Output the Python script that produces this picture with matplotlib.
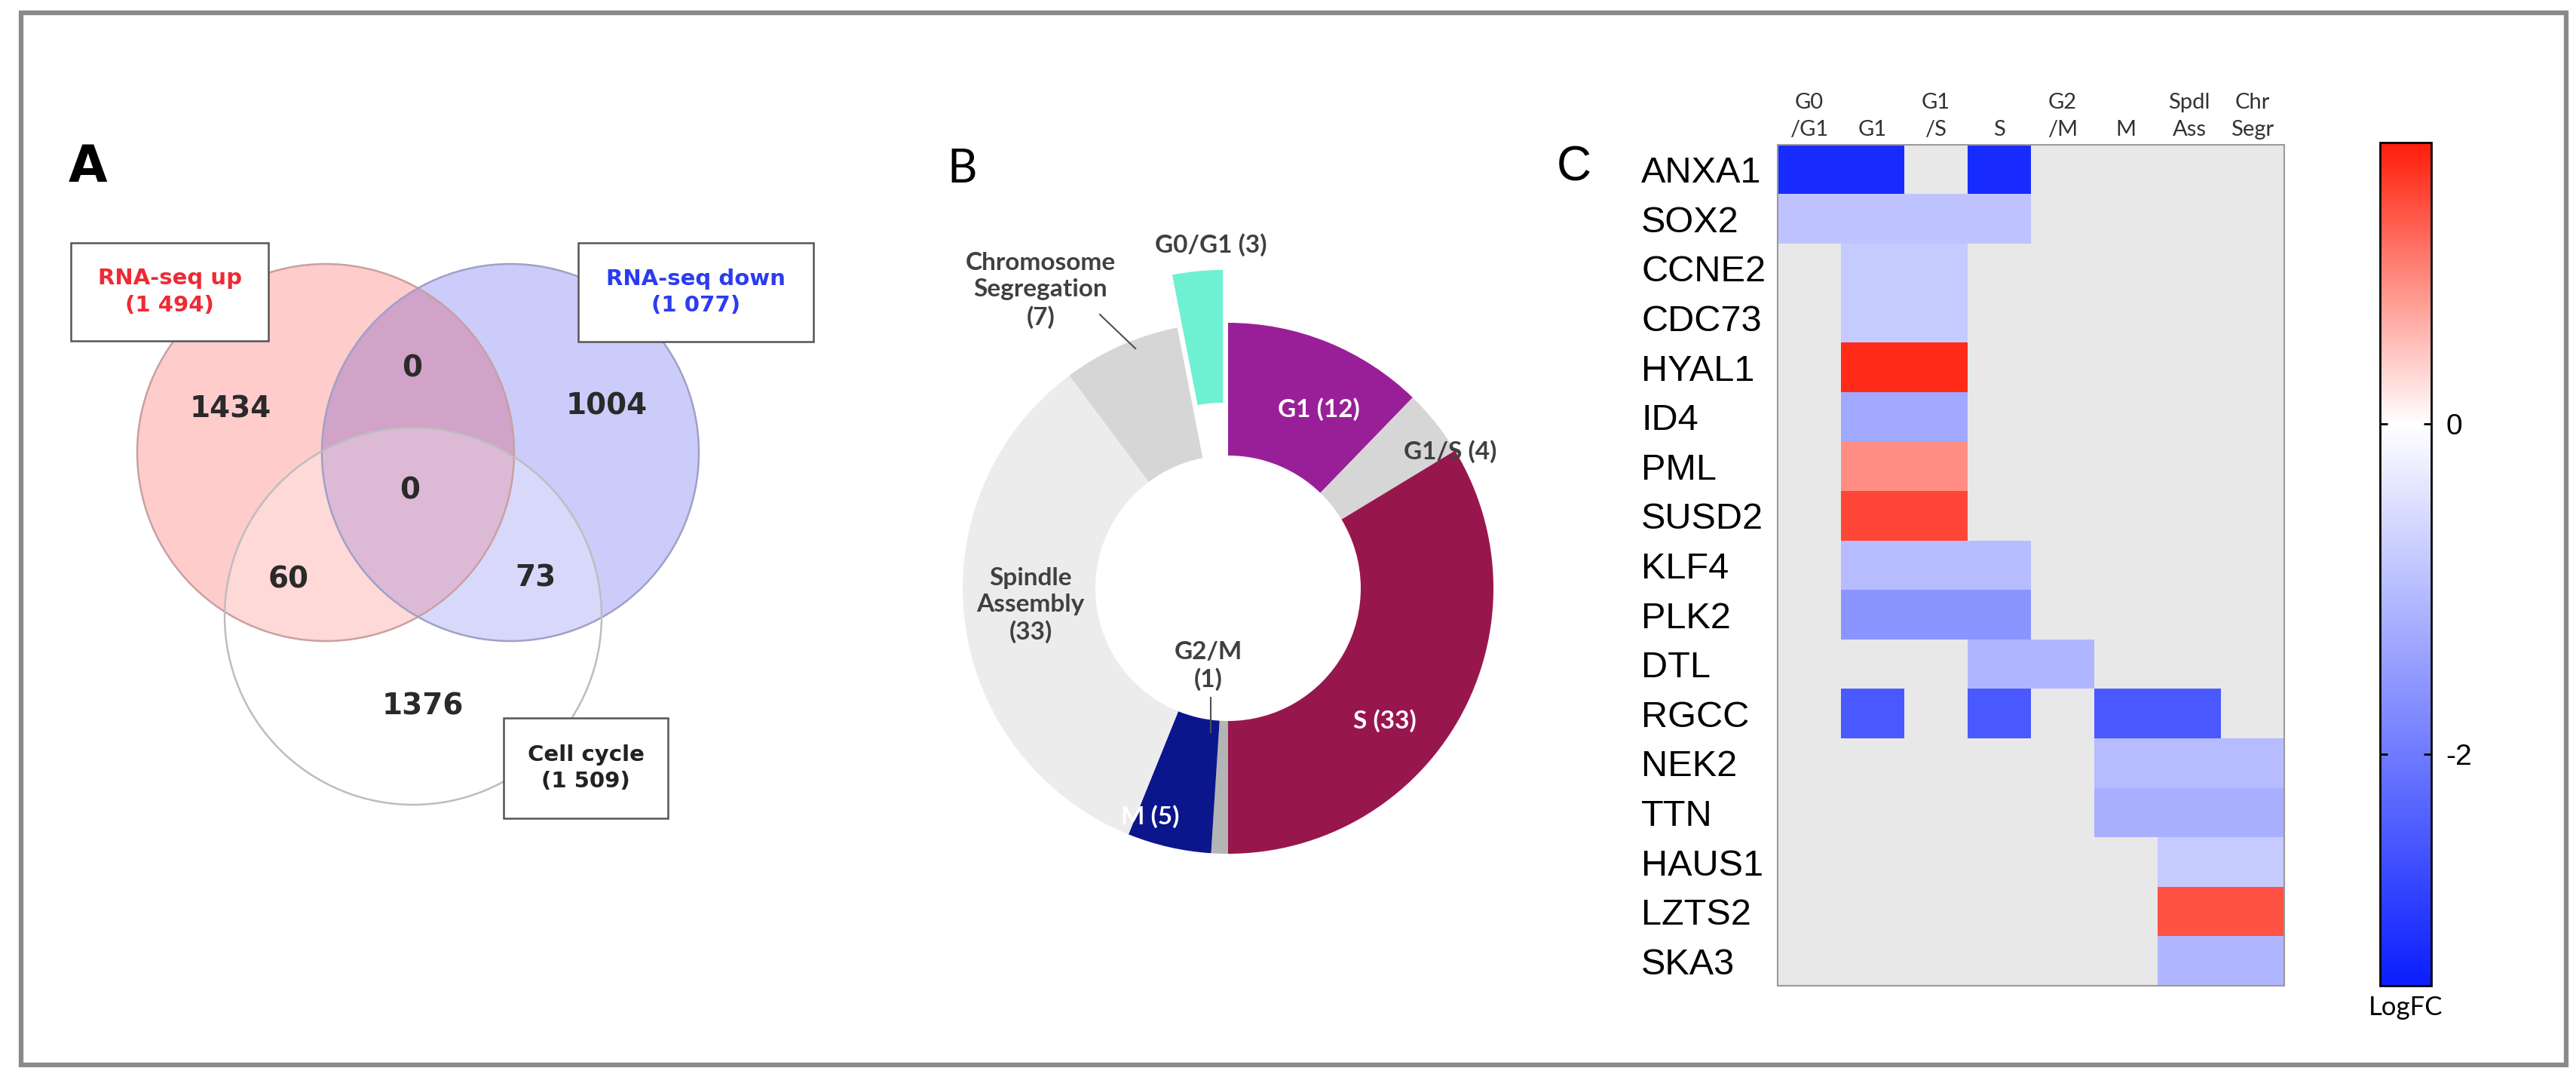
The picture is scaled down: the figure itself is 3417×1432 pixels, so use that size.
import numpy as np
import matplotlib
matplotlib.use("Agg")
import matplotlib.pyplot as plt
from matplotlib.patches import Circle, Rectangle
from matplotlib.colors import LinearSegmentedColormap, Normalize
from matplotlib.cm import ScalarMappable

W, H = 3417, 1432

# ---- Panel A : Venn counts
set_names = ["RNA-seq up", "RNA-seq down", "Cell cycle"]
set_totals = ["1 494", "1 077", "1 509"]
only_up, only_down, only_cc = 1434, 1004, 1376
up_down, up_cc, down_cc, all_three = 0, 60, 73, 0

# ---- Panel B : genes per cell-cycle phase
phase_labels = ["G1 (12)", "G1/S (4)", "S (33)", "G2/M\n(1)", "M (5)",
                "Spindle\nAssembly\n(33)", "Chromosome\nSegregation\n(7)", "G0/G1 (3)"]
phase_counts = [12, 4, 33, 1, 5, 33, 7, 3]
phase_colors = ["#991f98", "#d6d6d6", "#98164e", "#b4b4b4", "#0b168c",
                "#ececec", "#d6d6d6", "#6ef0d3"]

# ---- Panel C : LogFC heatmap
genes = ["ANXA1", "SOX2", "CCNE2", "CDC73", "HYAL1", "ID4", "PML", "SUSD2",
         "KLF4", "PLK2", "DTL", "RGCC", "NEK2", "TTN", "HAUS1", "LZTS2", "SKA3"]
phases = ["G0\n/G1", "G1", "G1\n/S", "S", "G2\n/M", "M", "Spdl\nAss", "Chr\nSegr"]
n = np.nan
logfc = np.array([
    [-3.2, -3.2, n, -3.2, n, n, n, n],
    [-0.9, -0.9, -0.9, -0.9, n, n, n, n],
    [n, -0.8, -0.8, n, n, n, n, n],
    [n, -0.8, -0.8, n, n, n, n, n],
    [n, 1.6, 1.6, n, n, n, n, n],
    [n, -1.3, -1.3, n, n, n, n, n],
    [n, 0.85, 0.85, n, n, n, n, n],
    [n, 1.4, 1.4, n, n, n, n, n],
    [n, -1.0, -1.0, -1.0, n, n, n, n],
    [n, -1.6, -1.6, -1.6, n, n, n, n],
    [n, n, n, -1.1, -1.1, n, n, n],
    [n, -2.5, n, -2.5, n, -2.5, -2.5, n],
    [n, n, n, n, n, -1.0, -1.0, -1.0],
    [n, n, n, n, n, -1.2, -1.2, -1.2],
    [n, n, n, n, n, n, -0.8, -0.8],
    [n, n, n, n, n, n, 1.3, 1.3],
    [n, n, n, n, n, n, -1.1, -1.1],
])
vmin, vmax = -3.4, 1.7
cbar_ticks = [0, -2]


def px_rect(x0, y0, x1, y1):
    return [x0 / W, 1 - y1 / H, (x1 - x0) / W, (y1 - y0) / H]


fig = plt.figure(figsize=(W / 100, H / 100), dpi=100)

bg = fig.add_axes([0, 0, 1, 1])
bg.set_xlim(0, W)
bg.set_ylim(H, 0)
bg.axis("off")

# frame round the whole figure
bg.add_patch(Rectangle((28, 17), 3376, 1395, fill=False, ec="#8a8a8a", lw=4.5))

# ---------------- A
bg.text(116, 222, "A", fontsize=48, fontweight="bold", ha="center", va="center")

red_c, blue_c, cc_c = (432, 600), (677, 600), (548, 817)
r = 250
red_fill = Circle(red_c, r, fc=(1.0, 0.80, 0.80), ec="none")
blue_fill = Circle(blue_c, r, fc=(0.80, 0.80, 0.98), ec="none")
bg.add_patch(red_fill)
bg.add_patch(blue_fill)
overlap = Circle(blue_c, r, fc=(0.82, 0.64, 0.79), ec="none")
bg.add_patch(overlap)
overlap.set_clip_path(red_fill)
bg.add_patch(Circle(cc_c, r, fc=(1, 1, 1, 0.25), ec="none"))
bg.add_patch(Circle(red_c, r, fill=False, ec="#c9a0a0", lw=1.8))
bg.add_patch(Circle(blue_c, r, fill=False, ec="#a0a0c8", lw=1.8))
bg.add_patch(Circle(cc_c, r, fill=False, ec="#bdbdbd", lw=1.8))

num_kw = dict(fontsize=28, fontweight="bold", color="#2a2a2a", ha="center", va="center")
bg.text(306, 543, str(only_up), **num_kw)
bg.text(805, 539, str(only_down), **num_kw)
bg.text(561, 936, str(only_cc), **num_kw)
bg.text(547, 489, str(up_down), **num_kw)
bg.text(544, 650, str(all_three), **num_kw)
bg.text(383, 769, str(up_cc), **num_kw)
bg.text(711, 767, str(down_cc), **num_kw)

boxes = [(94, 322, 356, 452, "#ee2a35"), (767, 322, 1079, 453, "#2b3cf0"),
         (668, 952, 886, 1085, "#222222")]
for (x0, y0, x1, y1, col), name, tot in zip(boxes, set_names, set_totals):
    bg.add_patch(Rectangle((x0, y0), x1 - x0, y1 - y0, fc="white", ec="#555555", lw=1.8))
    bg.text((x0 + x1) / 2, (y0 + y1) / 2, f"{name}\n({tot})", color=col,
            fontsize=21, fontweight="bold", ha="center", va="center", linespacing=1.35)

# ---------------- B
bg.text(1276, 224, "B", fontsize=44, family="Lato", ha="center", va="center")

axB = fig.add_axes(px_rect(1129, 280, 2129, 1280))
explode = [0, 0, 0, 0, 0, 0, 0, 0.2]
axB.pie(phase_counts, colors=phase_colors, startangle=90, counterclock=False,
        radius=1, explode=explode, wedgeprops=dict(width=0.5, edgecolor="none"))
L = 500 / 352
axB.set_xlim(-L, L)
axB.set_ylim(-L, L)
axB.set_aspect("equal")
axB.axis("off")

lab_pos = [(0.341, 0.673), (0.838, 0.514), (0.591, -0.50), (-0.074, -0.293),
           (-0.293, -0.861), (-0.744, -0.065), (-0.707, 1.122), (-0.065, 1.293)]
lab_col = ["white", "#404040", "white", "#404040", "white", "#404040", "#404040", "#404040"]
for lab, (x, y), c in zip(phase_labels, lab_pos, lab_col):
    axB.text(x, y, lab, color=c, fontsize=24, family="Lato", fontweight="bold",
             ha="center", va="center", linespacing=1.25)
axB.plot([-0.065, -0.065], [-0.412, -0.543], color="#505050", lw=1.5)
axB.plot([-0.483, -0.349], [1.031, 0.903], color="#505050", lw=1.5)

# ---------------- C
bg.text(2088, 222, "C", fontsize=46, family="Liberation Sans", ha="center", va="center")

cmap = LinearSegmentedColormap.from_list(
    "logfc", [(0.0, "#0a1eff"), (-vmin / (vmax - vmin), "#ffffff"), (1.0, "#ff1e0a")])
cmap.set_bad("#e8e8e8")
norm = Normalize(vmin=vmin, vmax=vmax)

axC = fig.add_axes(px_rect(2358, 192, 3030, 1307))
axC.imshow(np.ma.masked_invalid(logfc), cmap=cmap, norm=norm, aspect="auto",
           interpolation="nearest")
axC.set_xticks(range(len(phases)))
axC.set_xticklabels(phases, family="Lato", fontsize=21, color="#333333", linespacing=1.5)
axC.xaxis.tick_top()
axC.set_yticks(range(len(genes)))
axC.set_yticklabels(genes, family="Liberation Sans", fontsize=35, ha="left")
axC.tick_params(axis="x", length=0, pad=5)
axC.tick_params(axis="y", length=0, pad=181 * 0.72)
for sp in axC.spines.values():
    sp.set_color("#9a9a9a")
    sp.set_linewidth(1.5)

cax = fig.add_axes(px_rect(3157, 189, 3225, 1307))
cb = fig.colorbar(ScalarMappable(norm=norm, cmap=cmap), cax=cax)
cb.set_ticks(cbar_ticks)
cb.set_ticklabels([str(t) for t in cbar_ticks])
cb.outline.set_linewidth(2)
cax.tick_params(direction="in", left=True, right=True, length=7, width=2,
                labelsize=28, pad=14)
for t in cax.get_yticklabels():
    t.set_family("Liberation Sans")
cax.text(0.5, -0.012, "LogFC", transform=cax.transAxes, ha="center", va="top",
         fontsize=25, family="Lato")

fig.savefig("out.png", dpi=100)
